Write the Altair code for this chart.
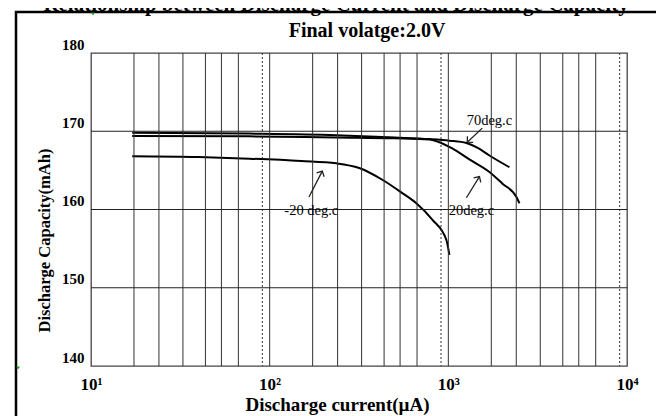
import altair as alt
import pandas as pd

# ---- data ----
x_70 = [17, 77, 236, 500, 783, 1014, 1262, 1452, 1698, 2197]
y_70 = [169.8, 169.7, 169.5, 169.2, 169.0, 168.8, 168.5, 167.9, 166.9, 165.4]

x_20 = [17, 77, 236, 500, 783, 891, 1052, 1312, 1698, 2010, 2405, 2500]
y_20 = [169.4, 169.35, 169.2, 169.1, 168.95, 168.6, 167.8, 166.4, 164.8, 163.3, 161.6, 160.8]

x_m20 = [17, 40, 77, 150, 236, 317, 427, 552, 662, 813, 975, 1014]
y_m20 = [166.8, 166.7, 166.5, 166.2, 165.9, 165.3, 163.8, 162.1, 160.8, 158.7, 156.1, 154.2]

decades = [10, 100, 1000]
minor_mult = [1.74, 2.4, 3.27, 4.37, 5.37, 6.68]
dotted_mult = [9.1]
y_grid = [150, 160, 170]
x_ticks = [10, 100, 1000, 10000]
y_ticks = [140, 150, 160, 170, 180]

ann_text = ["70deg.c", "20deg.c", "-20 deg.c"]
ann_x = [1698, 1346, 171]
ann_y = [171.3, 159.75, 159.75]
arrow_x0 = [1549, 1262, 166]
arrow_y0 = [170.4, 161.5, 161.6]
arrow_x1 = [1276, 1493, 197]
arrow_y1 = [168.6, 164.2, 164.9]
arrow_angle = [227, 32, 27]

FONT = "Liberation Serif"

rows = []
for name, xs, ys in [("70", x_70, y_70), ("20", x_20, y_20), ("-20", x_m20, y_m20)]:
    for a, b in zip(xs, ys):
        rows.append({"series": name, "current": a, "capacity": b})
curves = pd.DataFrame(rows)

solid_grid = pd.DataFrame({"v": [d * m for d in decades for m in minor_mult] + [100, 1000]})
dotted_grid = pd.DataFrame({"v": [d * m for d in decades for m in dotted_mult]})
hgrid = pd.DataFrame({"v": y_grid})
ann = pd.DataFrame({"t": ann_text, "x": ann_x, "y": ann_y})
arrows = pd.DataFrame({"x0": arrow_x0, "y0": arrow_y0, "x1": arrow_x1, "y1": arrow_y1, "ang": arrow_angle})
one = pd.DataFrame({"a": [0]})

xscale = alt.Scale(type="log", domain=[10, 10000], nice=False)
yscale = alt.Scale(domain=[140, 180], nice=False, zero=False)

label_expr = ("datum.value == 10 ? '10\u00b9' : datum.value == 100 ? '10\u00b2' : "
              "datum.value == 1000 ? '10\u00b3' : '10\u2074'")

x_axis = alt.Axis(values=x_ticks, labelExpr=label_expr, grid=False, ticks=False, domain=False,
                  labelFont=FONT, labelFontWeight="bold", labelFontSize=17, labelColor="black",
                  labelPadding=10, labelFlush=False, labelBaseline="top",
                  title="Discharge current(\u00b5A)", titleFont=FONT, titleFontWeight="bold",
                  titleFontSize=19, titleColor="black", titleX=246, titleY=38,
                  titleBaseline="middle", titleAlign="center")
y_axis = alt.Axis(values=y_ticks, grid=False, ticks=False, domain=False, tickSize=0,
                  labelFont=FONT, labelFontWeight="bold", labelFontSize=15, labelColor="black",
                  labelPadding=7, labelOffset=-9, labelBaseline="middle",
                  title="Discharge Capacity(mAh)", titleFont=FONT, titleFontWeight="bold",
                  titleFontSize=16.5, titleColor="black", titleX=-47, titleY=187,
                  titleAngle=270, titleBaseline="middle", titleAlign="center")


def X(field):
    return alt.X(field, scale=xscale, axis=x_axis, title="Discharge current(\u00b5A)")


def Y(field):
    return alt.Y(field, scale=yscale, axis=y_axis, title="Discharge Capacity(mAh)")


frame = alt.Chart(one).mark_rect(fillOpacity=0, stroke="black", strokeWidth=2.5).encode(
    x=alt.value(-75), x2=alt.value(570), y=alt.value(-41), y2=alt.value(420))

vgrid = alt.Chart(solid_grid).mark_rule(color="#333333", strokeWidth=1).encode(x=X("v:Q"))
vdot = alt.Chart(dotted_grid).mark_rule(color="#333333", strokeWidth=1, strokeDash=[2, 2]).encode(
    x=X("v:Q"))
hg = alt.Chart(hgrid).mark_rule(color="#222222", strokeWidth=1).encode(y=Y("v:Q"))

lines = alt.Chart(curves).mark_line(color="black", strokeWidth=2, interpolate="monotone").encode(
    x=X("current:Q"), y=Y("capacity:Q"), detail="series:N")

ann_txt = alt.Chart(ann).mark_text(font=FONT, fontSize=14.5, color="black", align="center",
                                   baseline="middle").encode(x=X("x:Q"), y=Y("y:Q"), text="t:N")

shafts = alt.Chart(arrows).mark_rule(color="#222222", strokeWidth=1.3).encode(
    x=X("x0:Q"), y=Y("y0:Q"), x2="x1:Q", y2="y1:Q")
heads = alt.Chart(arrows).mark_point(shape="M-1,1L0,0L1,1", filled=False, color="#222222",
                                     strokeWidth=1.3, size=70, opacity=1).encode(
    x=X("x1:Q"), y=Y("y1:Q"), angle=alt.Angle("ang:Q", scale=None))

subtitle = alt.Chart(one).mark_text(text="Final volatge:2.0V", font=FONT, fontSize=20,
                                     fontWeight="bold", color="black", align="center",
                                     baseline="alphabetic").encode(
    x=alt.value(276), y=alt.value(-16))
main_title = alt.Chart(one).mark_text(
    text="Relationship between Discharge Current and Discharge Capacity", font=FONT,
    fontSize=21, fontWeight="bold", color="black", align="center", baseline="alphabetic").encode(
    x=alt.value(245), y=alt.value(-42))

green1 = alt.Chart(one).mark_point(shape="triangle-down", filled=True, color="#1a9a1a", size=14,
                                   opacity=1).encode(x=alt.value(2), y=alt.value(-39))
green2 = alt.Chart(one).mark_point(shape="triangle-down", filled=True, color="#1a9a1a", size=14,
                                   opacity=1).encode(x=alt.value(-73), y=alt.value(315))

chart = alt.layer(lines, frame, vgrid, vdot, hg, shafts, heads, ann_txt, subtitle,
                  main_title, green1, green2).properties(
    width=536, height=313,
    autosize=alt.AutoSizeParams(type="none"),
    padding={"left": 83, "top": 45, "right": 29, "bottom": 50},
    background="white",
).configure_view(stroke="#444444", strokeWidth=1.3)

chart.save("out.html", embed_options={"renderer": "svg", "actions": False})
